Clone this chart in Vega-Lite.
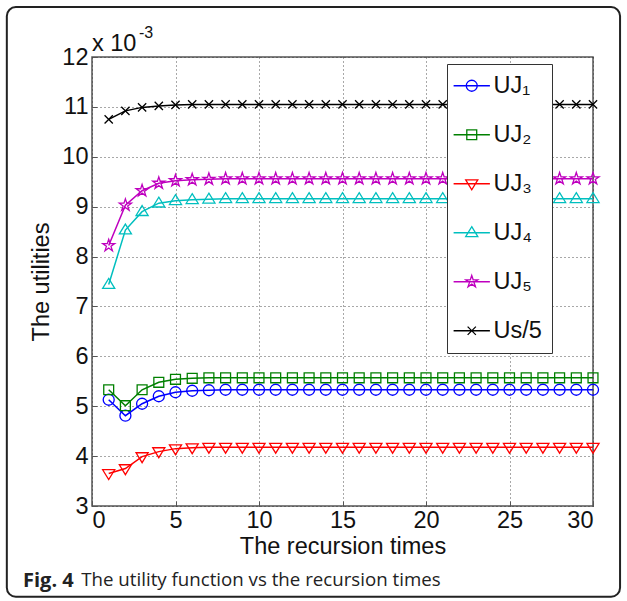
{
  "$schema": "https://vega.github.io/schema/vega-lite/v6.json",
  "width": 501,
  "height": 449,
  "autosize": {"type": "none"},
  "padding": {"left": 92, "top": 57, "right": 34, "bottom": 95},
  "background": "white",
  "config": {
    "font": "Liberation Sans",
    "view": {"stroke": "#555", "strokeWidth": 1.5},
    "axis": {
      "labelFont": "Liberation Sans", "labelFontSize": 23.5, "labelColor": "#111",
      "titleFont": "Liberation Sans", "titleFontSize": 23.5, "titleFontWeight": "normal", "titleColor": "#111",
      "domain": false, "grid": true, "gridColor": "#333", "gridDash": [1, 3], "gridWidth": 1, "gridOpacity": 0.85,
      "ticks": true, "tickColor": "#555", "tickSize": -5, "tickWidth": 1
    },
    "legend": {
      "title": null, "orient": "none", "legendX": 355, "legendY": 7,
      "fillColor": "white", "strokeColor": "#333", "padding": 10,
      "symbolSize": 121, "symbolStrokeWidth": 1.3, "symbolFillColor": "transparent",
      "labelFont": "Liberation Sans", "labelFontSize": 23.5, "labelColor": "#111",
      "rowPadding": 24, "labelOffset": 10, "symbolOffset": 3
    }
  },
  "title": {
    "text": "Fig. 4",
    "subtitle": "\u200b\u00a0\u00a0\u00a0\u00a0\u00a0\u00a0\u00a0\u00a0\u00a0\u00a0\u00a0\u00a0The utility function vs the recursion times",
    "orient": "bottom", "anchor": "start", "frame": "group", "dx": -69, "offset": -27,
    "font": "Open Sans", "fontSize": 20, "fontWeight": "bold", "color": "#222",
    "subtitleFont": "Open Sans", "subtitleFontSize": 18.7, "subtitleFontWeight": "normal", "subtitleColor": "#222",
    "subtitlePadding": -19.5
  },
  "resolve": {
    "scale": {"color": "independent", "shape": "independent"},
    "legend": {"color": "independent", "shape": "independent"}
  },
  "layer": [
    {
      "data": {"values": [{"frame": "outer"}]},
      "mark": {"type": "rect", "filled": false, "stroke": "#222", "strokeWidth": 2, "cornerRadius": 9, "clip": false},
      "encoding": {
        "x": {"datum": -5.1, "type": "quantitative"},
        "x2": {"datum": 31.62},
        "y": {"datum": 0.0130, "type": "quantitative"},
        "y2": {"datum": 0.00118}
      }
    },
    {
      "data": {"name": "series"},
      "mark": {"type": "line", "strokeWidth": 1.5},
      "encoding": {
        "x": {"field": "t", "type": "quantitative", "scale": {"domain": [0, 30], "nice": false, "zero": false},
              "axis": {"title": "The recursion times", "values": [0, 5, 10, 15, 20, 25, 30], "labelPadding": 7, "titlePadding": 3}},
        "y": {"field": "v", "type": "quantitative", "scale": {"domain": [0.003, 0.012], "nice": false, "zero": false},
              "axis": {"title": "The utilities", "values": [0.003, 0.004, 0.005, 0.006, 0.007, 0.008, 0.009, 0.010, 0.011, 0.012],
                       "labelExpr": "format(datum.value*1000, 'd')", "labelPadding": 9, "titlePadding": 8}},
        "color": {"field": "s", "type": "nominal",
                  "scale": {"domain": ["UJ₁", "UJ₂", "UJ₃", "UJ₄", "UJ₅", "Us/5"], "range": ["#0000ff", "#008000", "#ff0000", "#00bfbf", "#bf00bf", "#000000"]},
                  "legend": null}
      }
    },
    {
      "data": {"name": "series"},
      "mark": {"type": "point", "filled": false, "size": 121, "strokeWidth": 1.3, "opacity": 1},
      "encoding": {
        "x": {"field": "t", "type": "quantitative"},
        "y": {"field": "v", "type": "quantitative"},
        "color": {"field": "s", "type": "nominal",
                  "scale": {"domain": ["UJ₁", "UJ₂", "UJ₃", "UJ₄", "UJ₅", "Us/5"], "range": ["#0000ff", "#008000", "#ff0000", "#00bfbf", "#bf00bf", "#000000"]},
                  "legend": null},
        "shape": {"field": "s", "type": "nominal",
                  "scale": {"domain": ["UJ₁", "UJ₂", "UJ₃", "UJ₄", "UJ₅", "Us/5"],
                            "range": [
                              "M1,0A1,1 0 1,1 -1,0A1,1 0 1,1 1,0Z",
                              "M-0.9,-0.9H0.9V0.9H-0.9Z",
                              "M-1.1,-0.7H1.1L0,1.1Z",
                              "M0,-1.1L1.1,0.7H-1.1Z",
                              "M0,-1.15L0.259,-0.355L1.094,-0.355L0.417,0.136L0.676,0.93L0,0.439L-0.676,0.93L-0.417,0.136L-1.094,-0.355L-0.259,-0.355Z",
                              "M-0.75,-0.75L0.75,0.75M-0.75,0.75L0.75,-0.75"
                            ]},
                  "legend": null}
      }
    },
    {
      "data": {"values": []},
      "mark": {"type": "point", "filled": false, "size": 121, "strokeWidth": 1.3, "opacity": 1},
      "encoding": {
        "color": {"field": "s", "type": "nominal",
                  "scale": {"domain": ["UJ₁", "UJ₂", "UJ₃", "UJ₄", "UJ₅", "Us/5"], "range": ["#0000ff", "#008000", "#ff0000", "#00bfbf", "#bf00bf", "#000000"]}},
        "shape": {"field": "s", "type": "nominal",
                  "scale": {"domain": ["UJ₁", "UJ₂", "UJ₃", "UJ₄", "UJ₅", "Us/5"],
                            "range": [
                              "M-3.3,0H3.3M1,0A1,1 0 1,1 -1,0A1,1 0 1,1 1,0Z",
                              "M-3.3,0H3.3M-0.9,-0.9H0.9V0.9H-0.9Z",
                              "M-3.3,0H3.3M-1.1,-0.7H1.1L0,1.1Z",
                              "M-3.3,0H3.3M0,-1.1L1.1,0.7H-1.1Z",
                              "M-3.3,0H3.3M0,-1.15L0.259,-0.355L1.094,-0.355L0.417,0.136L0.676,0.93L0,0.439L-0.676,0.93L-0.417,0.136L-1.094,-0.355L-0.259,-0.355Z",
                              "M-3.3,0H3.3M-0.75,-0.75L0.75,0.75M-0.75,0.75L0.75,-0.75"
                            ]}}
      }
    },
    {
      "data": {"values": [{"txt": "x 10"}]},
      "mark": {"type": "text", "align": "left", "baseline": "alphabetic", "fontSize": 23.5, "font": "Liberation Sans", "color": "#111", "dx": 0, "dy": -6},
      "encoding": {"x": {"datum": 0, "type": "quantitative"}, "y": {"datum": 0.012, "type": "quantitative"}, "text": {"field": "txt"}}
    },
    {
      "data": {"values": [{"txt": "-3"}]},
      "mark": {"type": "text", "align": "left", "baseline": "alphabetic", "fontSize": 16, "font": "Liberation Sans", "color": "#111", "dx": 47, "dy": -19},
      "encoding": {"x": {"datum": 0, "type": "quantitative"}, "y": {"datum": 0.012, "type": "quantitative"}, "text": {"field": "txt"}}
    }
  ],
  "datasets": {
    "series": [
      {"s":"UJ₁","t":1,"v":0.00513},{"s":"UJ₁","t":2,"v":0.00481},{"s":"UJ₁","t":3,"v":0.00505},{"s":"UJ₁","t":4,"v":0.0052},{"s":"UJ₁","t":5,"v":0.00528},
      {"s":"UJ₁","t":6,"v":0.00531},{"s":"UJ₁","t":7,"v":0.00532},{"s":"UJ₁","t":8,"v":0.00533},{"s":"UJ₁","t":9,"v":0.00533},{"s":"UJ₁","t":10,"v":0.00533},
      {"s":"UJ₁","t":11,"v":0.00533},{"s":"UJ₁","t":12,"v":0.00533},{"s":"UJ₁","t":13,"v":0.00533},{"s":"UJ₁","t":14,"v":0.00533},{"s":"UJ₁","t":15,"v":0.00533},
      {"s":"UJ₁","t":16,"v":0.00533},{"s":"UJ₁","t":17,"v":0.00533},{"s":"UJ₁","t":18,"v":0.00533},{"s":"UJ₁","t":19,"v":0.00533},{"s":"UJ₁","t":20,"v":0.00533},
      {"s":"UJ₁","t":21,"v":0.00533},{"s":"UJ₁","t":22,"v":0.00533},{"s":"UJ₁","t":23,"v":0.00533},{"s":"UJ₁","t":24,"v":0.00533},{"s":"UJ₁","t":25,"v":0.00533},
      {"s":"UJ₁","t":26,"v":0.00533},{"s":"UJ₁","t":27,"v":0.00533},{"s":"UJ₁","t":28,"v":0.00533},{"s":"UJ₁","t":29,"v":0.00533},{"s":"UJ₁","t":30,"v":0.00533},

      {"s":"UJ₂","t":1,"v":0.00533},{"s":"UJ₂","t":2,"v":0.00501},{"s":"UJ₂","t":3,"v":0.00533},{"s":"UJ₂","t":4,"v":0.00548},{"s":"UJ₂","t":5,"v":0.00554},
      {"s":"UJ₂","t":6,"v":0.00556},{"s":"UJ₂","t":7,"v":0.00557},{"s":"UJ₂","t":8,"v":0.00557},{"s":"UJ₂","t":9,"v":0.00557},{"s":"UJ₂","t":10,"v":0.00557},
      {"s":"UJ₂","t":11,"v":0.00557},{"s":"UJ₂","t":12,"v":0.00557},{"s":"UJ₂","t":13,"v":0.00557},{"s":"UJ₂","t":14,"v":0.00557},{"s":"UJ₂","t":15,"v":0.00557},
      {"s":"UJ₂","t":16,"v":0.00557},{"s":"UJ₂","t":17,"v":0.00557},{"s":"UJ₂","t":18,"v":0.00557},{"s":"UJ₂","t":19,"v":0.00557},{"s":"UJ₂","t":20,"v":0.00557},
      {"s":"UJ₂","t":21,"v":0.00557},{"s":"UJ₂","t":22,"v":0.00557},{"s":"UJ₂","t":23,"v":0.00557},{"s":"UJ₂","t":24,"v":0.00557},{"s":"UJ₂","t":25,"v":0.00557},
      {"s":"UJ₂","t":26,"v":0.00557},{"s":"UJ₂","t":27,"v":0.00557},{"s":"UJ₂","t":28,"v":0.00557},{"s":"UJ₂","t":29,"v":0.00557},{"s":"UJ₂","t":30,"v":0.00557},

      {"s":"UJ₃","t":1,"v":0.00365},{"s":"UJ₃","t":2,"v":0.00375},{"s":"UJ₃","t":3,"v":0.00399},{"s":"UJ₃","t":4,"v":0.00409},{"s":"UJ₃","t":5,"v":0.00415},
      {"s":"UJ₃","t":6,"v":0.00417},{"s":"UJ₃","t":7,"v":0.00418},{"s":"UJ₃","t":8,"v":0.00418},{"s":"UJ₃","t":9,"v":0.00418},{"s":"UJ₃","t":10,"v":0.00418},
      {"s":"UJ₃","t":11,"v":0.00418},{"s":"UJ₃","t":12,"v":0.00418},{"s":"UJ₃","t":13,"v":0.00418},{"s":"UJ₃","t":14,"v":0.00418},{"s":"UJ₃","t":15,"v":0.00418},
      {"s":"UJ₃","t":16,"v":0.00418},{"s":"UJ₃","t":17,"v":0.00418},{"s":"UJ₃","t":18,"v":0.00418},{"s":"UJ₃","t":19,"v":0.00418},{"s":"UJ₃","t":20,"v":0.00418},
      {"s":"UJ₃","t":21,"v":0.00418},{"s":"UJ₃","t":22,"v":0.00418},{"s":"UJ₃","t":23,"v":0.00418},{"s":"UJ₃","t":24,"v":0.00418},{"s":"UJ₃","t":25,"v":0.00418},
      {"s":"UJ₃","t":26,"v":0.00418},{"s":"UJ₃","t":27,"v":0.00418},{"s":"UJ₃","t":28,"v":0.00418},{"s":"UJ₃","t":29,"v":0.00418},{"s":"UJ₃","t":30,"v":0.00418},

      {"s":"UJ₄","t":1,"v":0.00744},{"s":"UJ₄","t":2,"v":0.00853},{"s":"UJ₄","t":3,"v":0.0089},{"s":"UJ₄","t":4,"v":0.00907},{"s":"UJ₄","t":5,"v":0.00912},
      {"s":"UJ₄","t":6,"v":0.00914},{"s":"UJ₄","t":7,"v":0.00915},{"s":"UJ₄","t":8,"v":0.00916},{"s":"UJ₄","t":9,"v":0.00916},{"s":"UJ₄","t":10,"v":0.00916},
      {"s":"UJ₄","t":11,"v":0.00916},{"s":"UJ₄","t":12,"v":0.00916},{"s":"UJ₄","t":13,"v":0.00916},{"s":"UJ₄","t":14,"v":0.00916},{"s":"UJ₄","t":15,"v":0.00916},
      {"s":"UJ₄","t":16,"v":0.00916},{"s":"UJ₄","t":17,"v":0.00916},{"s":"UJ₄","t":18,"v":0.00916},{"s":"UJ₄","t":19,"v":0.00916},{"s":"UJ₄","t":20,"v":0.00916},
      {"s":"UJ₄","t":21,"v":0.00916},{"s":"UJ₄","t":22,"v":0.00916},{"s":"UJ₄","t":23,"v":0.00916},{"s":"UJ₄","t":24,"v":0.00916},{"s":"UJ₄","t":25,"v":0.00916},
      {"s":"UJ₄","t":26,"v":0.00916},{"s":"UJ₄","t":27,"v":0.00916},{"s":"UJ₄","t":28,"v":0.00916},{"s":"UJ₄","t":29,"v":0.00916},{"s":"UJ₄","t":30,"v":0.00916},

      {"s":"UJ₅","t":1,"v":0.00822},{"s":"UJ₅","t":2,"v":0.00903},{"s":"UJ₅","t":3,"v":0.00932},{"s":"UJ₅","t":4,"v":0.00947},{"s":"UJ₅","t":5,"v":0.00952},
      {"s":"UJ₅","t":6,"v":0.00954},{"s":"UJ₅","t":7,"v":0.00955},{"s":"UJ₅","t":8,"v":0.00956},{"s":"UJ₅","t":9,"v":0.00956},{"s":"UJ₅","t":10,"v":0.00956},
      {"s":"UJ₅","t":11,"v":0.00956},{"s":"UJ₅","t":12,"v":0.00956},{"s":"UJ₅","t":13,"v":0.00956},{"s":"UJ₅","t":14,"v":0.00956},{"s":"UJ₅","t":15,"v":0.00956},
      {"s":"UJ₅","t":16,"v":0.00956},{"s":"UJ₅","t":17,"v":0.00956},{"s":"UJ₅","t":18,"v":0.00956},{"s":"UJ₅","t":19,"v":0.00956},{"s":"UJ₅","t":20,"v":0.00956},
      {"s":"UJ₅","t":21,"v":0.00956},{"s":"UJ₅","t":22,"v":0.00956},{"s":"UJ₅","t":23,"v":0.00956},{"s":"UJ₅","t":24,"v":0.00956},{"s":"UJ₅","t":25,"v":0.00956},
      {"s":"UJ₅","t":26,"v":0.00956},{"s":"UJ₅","t":27,"v":0.00956},{"s":"UJ₅","t":28,"v":0.00956},{"s":"UJ₅","t":29,"v":0.00956},{"s":"UJ₅","t":30,"v":0.00956},

      {"s":"Us/5","t":1,"v":0.01075},{"s":"Us/5","t":2,"v":0.01092},{"s":"Us/5","t":3,"v":0.01099},{"s":"Us/5","t":4,"v":0.01102},{"s":"Us/5","t":5,"v":0.01104},
      {"s":"Us/5","t":6,"v":0.01105},{"s":"Us/5","t":7,"v":0.01105},{"s":"Us/5","t":8,"v":0.01105},{"s":"Us/5","t":9,"v":0.01105},{"s":"Us/5","t":10,"v":0.01105},
      {"s":"Us/5","t":11,"v":0.01105},{"s":"Us/5","t":12,"v":0.01105},{"s":"Us/5","t":13,"v":0.01105},{"s":"Us/5","t":14,"v":0.01105},{"s":"Us/5","t":15,"v":0.01105},
      {"s":"Us/5","t":16,"v":0.01105},{"s":"Us/5","t":17,"v":0.01105},{"s":"Us/5","t":18,"v":0.01105},{"s":"Us/5","t":19,"v":0.01105},{"s":"Us/5","t":20,"v":0.01105},
      {"s":"Us/5","t":21,"v":0.01105},{"s":"Us/5","t":22,"v":0.01105},{"s":"Us/5","t":23,"v":0.01105},{"s":"Us/5","t":24,"v":0.01105},{"s":"Us/5","t":25,"v":0.01105},
      {"s":"Us/5","t":26,"v":0.01105},{"s":"Us/5","t":27,"v":0.01105},{"s":"Us/5","t":28,"v":0.01105},{"s":"Us/5","t":29,"v":0.01105},{"s":"Us/5","t":30,"v":0.01105}
    ]
  }
}
